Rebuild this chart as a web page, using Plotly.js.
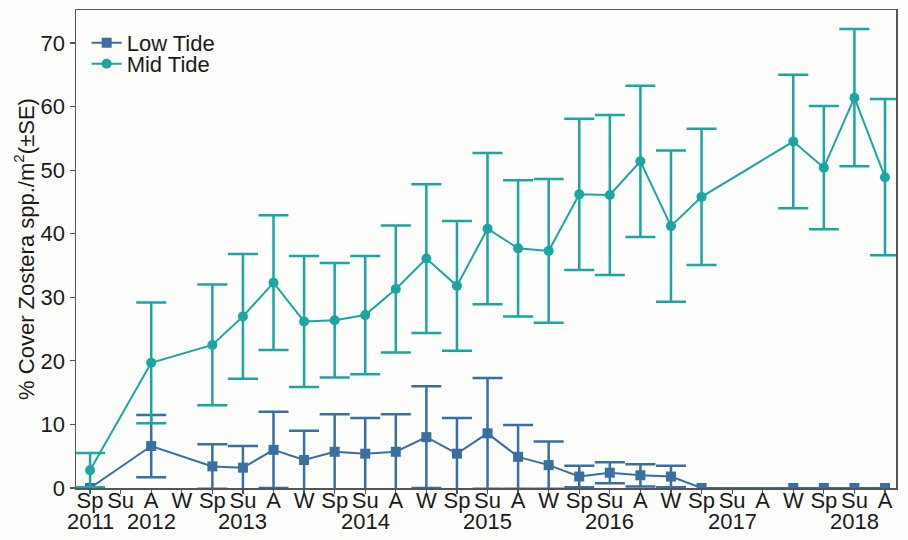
<!DOCTYPE html>
<html>
<head>
<meta charset="utf-8">
<script src="https://cdn.plot.ly/plotly-3.0.1.min.js"></script>
<style>
html,body{margin:0;padding:0;background:#fdfdfb;}
#chart{width:908px;height:540px;}
</style>
</head>
<body>
<div id="chart"></div>
<script>
// Season tick labels (27 sampling periods, Spring 2011 – Autumn 2018)
var seasonLabels = ['Sp','Su','A','W','Sp','Su','A','W','Sp','Su','A','W','Sp','Su','A','W','Sp','Su','A','W','Sp','Su','A','W','Sp','Su','A'];
// Year labels drawn under selected season ticks
var yearLabels = ['2011','','2012','','','2013','','','','2014','','','','2015','','','','2016','','','','2017','','','','2018',''];
// Index of each sampled period in the season list
var sampleIdx = [0,2,4,5,6,7,8,9,10,11,12,13,14,15,16,17,18,19,20,23,24,25,26];

var lowMean = [0,6.6,3.4,3.2,6.0,4.4,5.7,5.4,5.7,8.0,5.4,8.6,4.9,3.6,1.8,2.4,2.0,1.8,0,0,0,0,0];
var lowSE   = [0,4.9,3.5,3.4,6.0,4.6,5.9,5.6,5.9,8.0,5.6,8.7,5.0,3.7,1.7,1.65,1.75,1.7,0,0,0,0,0];

var midMean = [2.8,19.7,22.5,27.0,32.3,26.2,26.4,27.2,31.3,36.1,31.8,40.8,37.7,37.3,46.2,46.1,51.4,41.2,45.8,54.5,50.4,61.4,48.9];
var midSE   = [2.7,9.5,9.5,9.8,10.6,10.3,9.0,9.3,10.0,11.7,10.2,11.9,10.7,11.3,11.9,12.6,11.9,11.9,10.7,10.5,9.7,10.8,12.3];

var lowColor = '#3a6fa3';
var midColor = '#1ba6a2';
var FONT = 'Liberation Sans, Arial, sans-serif';

var tickIdx = seasonLabels.map(function(_, i){ return i; });
// a zero SE draws no bar
function bars(se){ return se.map(function(v){ return v > 0 ? v : NaN; }); }

var traces = [
  {
    x: sampleIdx, y: lowMean, name: 'Low Tide', type: 'scatter', mode: 'lines+markers',
    line: {color: lowColor, width: 2},
    marker: {color: lowColor, symbol: 'square', size: 10},
    error_y: {type: 'data', array: bars(lowSE), visible: true, color: lowColor, thickness: 2.5, width: 15},
    legend: 'legend'
  },
  {
    x: sampleIdx, y: midMean, name: 'Mid Tide', type: 'scatter', mode: 'lines+markers',
    line: {color: midColor, width: 2},
    marker: {color: midColor, symbol: 'circle', size: 10},
    error_y: {type: 'data', array: bars(midSE), visible: true, color: midColor, thickness: 2.5, width: 15},
    legend: 'legend2'
  }
];

var annotations = [];
yearLabels.forEach(function(t, i){
  if (t) annotations.push({
    x: tickIdx[i], xref: 'x', y: 0, yref: 'paper', text: t, showarrow: false,
    yanchor: 'middle', xanchor: 'center', yshift: -33,
    font: {family: FONT, size: 22, color: '#1a1a1a'}
  });
});

var layout = {
  width: 908, height: 540,
  margin: {l: 76, r: 12, t: 10, b: 52},
  paper_bgcolor: '#fdfdfb', plot_bgcolor: '#fdfdfb',
  font: {family: FONT, size: 22, color: '#1a1a1a'},
  showlegend: true,
  legend: {x: 0.013, y: 0.975, xanchor: 'left', yanchor: 'top', bgcolor: 'rgba(0,0,0,0)',
           font: {family: FONT, size: 22, color: '#1a1a1a'}},
  legend2: {x: 0.013, y: 0.931, xanchor: 'left', yanchor: 'top', bgcolor: 'rgba(0,0,0,0)',
           font: {family: FONT, size: 22, color: '#1a1a1a'}},
  xaxis: {
    range: [-0.46, 26.36], tickmode: 'array', tickvals: tickIdx, ticktext: seasonLabels,
    ticks: 'outside', ticklen: 4, tickwidth: 1.2, tickcolor: '#555',
    showline: true, linecolor: '#555', linewidth: 1.5, mirror: true,
    showgrid: false, zeroline: false, fixedrange: true,
    tickfont: {family: FONT, size: 22, color: '#1a1a1a'}, ticklabelstandoff: -12
  },
  yaxis: {
    range: [0, 75.2], tickmode: 'array', tickvals: [0,10,20,30,40,50,60,70],
    ticks: 'outside', ticklen: 5, tickwidth: 1.2, tickcolor: '#555',
    showline: true, linecolor: '#555', linewidth: 1.5, mirror: true,
    showgrid: false, zeroline: false,
    tickfont: {family: FONT, size: 22, color: '#1a1a1a'},
    title: {text: '% Cover Zostera spp./m<sup>2</sup>(±SE)', font: {family: FONT, size: 22, color: '#1a1a1a'}, standoff: 0}
  },
  annotations: annotations
};

Plotly.newPlot('chart', traces, layout, {displayModeBar: false, staticPlot: true});
</script>
</body>
</html>
